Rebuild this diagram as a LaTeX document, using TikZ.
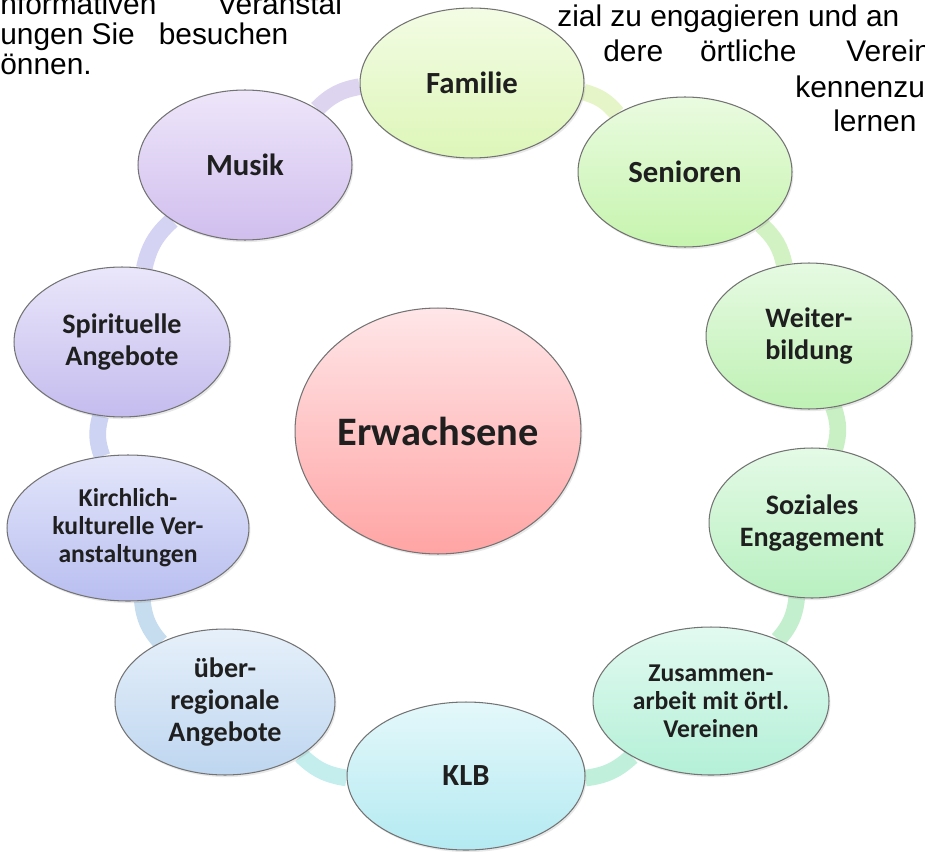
\documentclass[tikz,border=0pt]{standalone}
\usepackage{fontspec}
\setmainfont{Liberation Sans}
\newfontfamily\bubblefont{Carlito}
\usetikzlibrary{shapes.geometric,shadows,backgrounds}

\definecolor{famtop}{HTML}{F3FCE4}\definecolor{fambot}{HTML}{DDF6B8}
\definecolor{sentop}{HTML}{EAFBE0}\definecolor{senbot}{HTML}{C6F4AE}
\definecolor{weitop}{HTML}{E6FAE2}\definecolor{weibot}{HTML}{BFF1B4}
\definecolor{soztop}{HTML}{E4FAE6}\definecolor{sozbot}{HTML}{B8F0C0}
\definecolor{zustop}{HTML}{E2FAF0}\definecolor{zusbot}{HTML}{B4F0D8}
\definecolor{klbtop}{HTML}{E4F8FA}\definecolor{klbbot}{HTML}{B4EAF2}
\definecolor{uebtop}{HTML}{E6F0FA}\definecolor{uebbot}{HTML}{BED6F0}
\definecolor{kirtop}{HTML}{E4E6FA}\definecolor{kirbot}{HTML}{B8BEF0}
\definecolor{spitop}{HTML}{EAE6FA}\definecolor{spibot}{HTML}{C4BCEE}
\definecolor{mustop}{HTML}{EEE6FA}\definecolor{musbot}{HTML}{D0BEEE}
\definecolor{erwtop}{HTML}{FFE6E8}\definecolor{erwbot}{HTML}{FFA4A4}

\definecolor{ringfs}{HTML}{E6F5C8}
\definecolor{ringsw}{HTML}{D2F2C4}
\definecolor{ringws}{HTML}{C8F0C4}
\definecolor{ringsz}{HTML}{C4EFCE}
\definecolor{ringzk}{HTML}{C0F0DC}
\definecolor{ringku}{HTML}{C4EDEE}
\definecolor{ringuk}{HTML}{C6DCEF}
\definecolor{ringks}{HTML}{CDD3F3}
\definecolor{ringsm}{HTML}{D5D3F3}
\definecolor{ringmf}{HTML}{DDD5F0}

\tikzset{
    bubble/.style={ellipse, draw=black!55, line width=0.6pt, inner sep=0pt, align=center,
        text=black!88, font=\bubblefont\bfseries\fontsize{17.5}{20}\selectfont,
        drop shadow={opacity=0.18, shadow xshift=0.8pt, shadow yshift=-1.2pt}},
    twoline/.style={font=\bubblefont\bfseries\fontsize{16}{18}\selectfont},
    threeline/.style={font=\bubblefont\bfseries\fontsize{14.6}{16}\selectfont},
    ring/.style={line width=9.5pt},
    prose/.style={anchor=base west, inner sep=0pt, font=\fontsize{17}{20}\selectfont},
}

\begin{document}
\begin{tikzpicture}[x=0.02cm, y=-0.02cm]
        \useasboundingbox (0,0) rectangle (925,851);
        \clip (0,0) rectangle (925,851);

        \node[prose] (lineA) at (0,15) {nformativen\hspace{1.22cm}Veranstal};
        \node[prose] (lineB) at (0,45) {ungen Sie\hspace{0.48cm}besuchen};
        \node[prose] (lineC) at (0,75) {önnen.};

        \node[prose] (lineD) at (557,27) {zial zu engagieren und an};
        \node[prose] (lineE) at (603,62) {dere\hspace{0.74cm}örtliche\hspace{1.0cm}Verein};
        \node[prose] (lineF) at (795,98) {kennenzu};
        \node[prose] (lineG) at (833,132) {lernen};

        \node[bubble, minimum width=4.48cm, minimum height=3.0cm, top color=famtop, bottom color=fambot] (familie) at (472,83) {Familie};
        \node[bubble, minimum width=4.28cm, minimum height=3.0cm, top color=sentop, bottom color=senbot] (senioren) at (685,172) {Senioren};
        \node[bubble, twoline, minimum width=4.12cm, minimum height=2.92cm, top color=weitop, bottom color=weibot] (weiter) at (809,336) {Weiter-\\bildung};
        \node[bubble, twoline, minimum width=4.12cm, minimum height=3.0cm, top color=soztop, bottom color=sozbot] (soziales) at (812,523) {Soziales\\Engagement};
        \node[bubble, threeline, minimum width=4.72cm, minimum height=2.96cm, top color=zustop, bottom color=zusbot] (zusammen) at (711,701) {Zusammen-\\arbeit mit örtl.\\Vereinen};
        \node[bubble, minimum width=4.76cm, minimum height=2.96cm, top color=klbtop, bottom color=klbbot] (klb) at (466,776) {KLB};
        \node[bubble, twoline, minimum width=4.4cm, minimum height=2.92cm, top color=uebtop, bottom color=uebbot] (ueber) at (225,702) {über-\\regionale\\Angebote};
        \node[bubble, threeline, minimum width=4.84cm, minimum height=2.92cm, top color=kirtop, bottom color=kirbot] (kirchlich) at (128,528) {Kirchlich-\\kulturelle Ver-\\anstaltungen};
        \node[bubble, twoline, minimum width=4.32cm, minimum height=3.0cm, top color=spitop, bottom color=spibot] (spirituell) at (122,342) {Spirituelle\\Angebote};
        \node[bubble, minimum width=4.28cm, minimum height=3.0cm, top color=mustop, bottom color=musbot] (musik) at (245,165) {Musik};

        \node[bubble, font=\bubblefont\bfseries\fontsize{23}{26}\selectfont, minimum width=5.72cm, minimum height=4.92cm, top color=erwtop, bottom color=erwbot] (erwachsene) at (438,431) {Erwachsene};

        \begin{scope}[on background layer]
            \draw[ring, ringfs] (familie) to[bend left=18] (senioren);
            \draw[ring, ringsw] (senioren) to[bend left=18] (weiter);
            \draw[ring, ringws] (weiter) to[bend left=18] (soziales);
            \draw[ring, ringsz] (soziales) to[bend left=18] (zusammen);
            \draw[ring, ringzk] (zusammen) to[bend left=18] (klb);
            \draw[ring, ringku] (klb) to[bend left=18] (ueber);
            \draw[ring, ringuk] (ueber) to[bend left=18] (kirchlich);
            \draw[ring, ringks] (kirchlich) to[bend left=18] (spirituell);
            \draw[ring, ringsm] (spirituell) to[bend left=18] (musik);
            \draw[ring, ringmf] (musik) to[bend left=18] (familie);
        \end{scope}
    \end{tikzpicture}
\end{document}
